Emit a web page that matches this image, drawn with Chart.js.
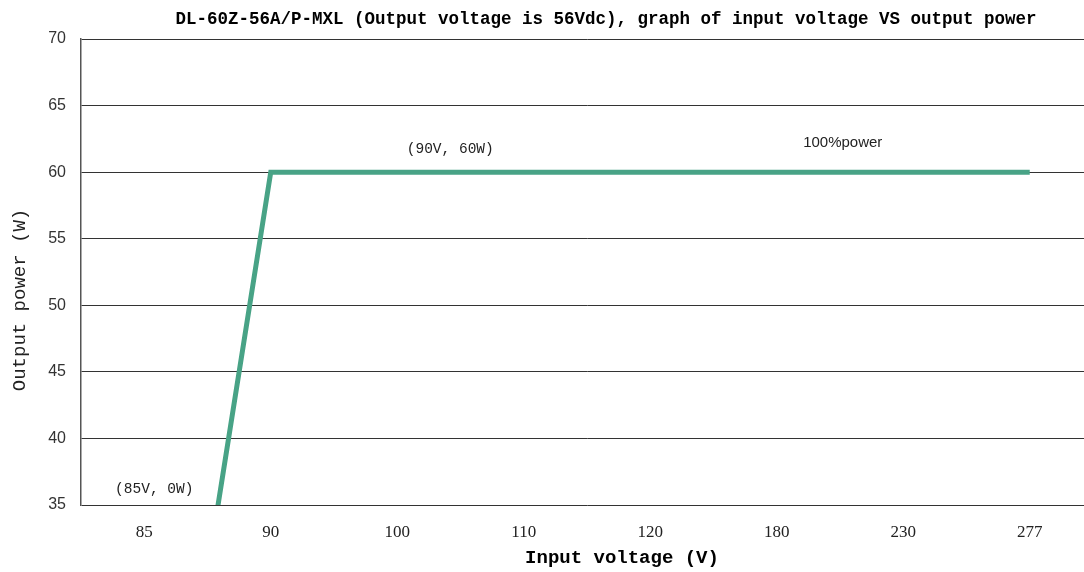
<!DOCTYPE html>
<html>
<head>
<meta charset="utf-8">
<script src="https://cdn.jsdelivr.net/npm/chart.js@4.4.1/dist/chart.umd.min.js"></script>
<style>
  html, body { margin: 0; padding: 0; background: #fff; overflow: hidden; }
  #wrap { width: 1093px; height: 572px; }
</style>
</head>
<body>
<div id="wrap"><canvas id="grafico"></canvas></div>
<script>
// datos
const voltajes = ['85', '90', '100', '110', '120', '180', '230', '277']
const potencia = [0, 60, 60, 60, 60, 60, 60, 60]
const ticksY = [35, 40, 45, 50, 55, 60, 65, 70]

const titulo = 'DL-60Z-56A/P-MXL (Output voltage is 56Vdc), graph of input voltage VS output power'
const tituloX = 'Input voltage (V)'
const tituloY = 'Output power (W)'

// notas sobre la linea: texto, categoria de referencia, valor en W
const notas = [
  { texto: '(85V, 0W)', cat: '85', valor: 36.2 },
  { texto: '(90V, 60W)', cat: '100', valor: 61.7 },
  { texto: '100%power', cat: '180', valor: 62.2 }
]

// dibuja el titulo, los titulos de ejes y las notas
const textosExtra = {
  id: 'textosExtra',
  afterDraw(chart) {
    const ctx = chart.ctx
    const x = chart.scales.x
    const y = chart.scales.y
    ctx.save()
    ctx.textBaseline = 'middle'
    ctx.textAlign = 'center'
    ctx.fillStyle = '#000'
    ctx.font = 'bold 17.5px "Liberation Mono"'
    ctx.fillText(titulo, 606, 20)

    ctx.font = 'bold 19px "Liberation Mono"'
    ctx.fillText(tituloX, 622, 558)

    ctx.save()
    ctx.translate(20, 300)
    ctx.rotate(-Math.PI / 2)
    ctx.font = '19px "Liberation Mono"'
    ctx.fillStyle = '#222'
    ctx.fillText(tituloY, 0, 0)
    ctx.restore()

    const desplaz = [10, 53, 66]
    notas.forEach((n, i) => {
      const px = x.getPixelForValue(voltajes.indexOf(n.cat)) + desplaz[i]
      const py = y.getPixelForValue(n.valor)
      ctx.font = i === 2 ? '15px "Liberation Sans"' : '14.5px "Liberation Mono"'
      ctx.fillStyle = '#222'
      ctx.fillText(n.texto, px, py)
    })
    ctx.restore()
  }
}

const config = {
  type: 'line',
  data: {
    labels: voltajes,
    datasets: [{
      label: 'Output power',
      data: potencia,
      borderColor: '#48a386',
      backgroundColor: '#48a386',
      borderWidth: 5,
      pointRadius: 0,
      tension: 0,
      fill: false
    }]
  },
  options: {
    responsive: true,
    maintainAspectRatio: false,
    animation: false,
    layout: { padding: { top: 39, right: 0, left: 0, bottom: 0 } },
    plugins: {
      legend: { display: false },
      title: { display: false },
      tooltip: { enabled: false }
    },
    scales: {
      x: {
        type: 'category',
        offset: true,
        grid: { display: false, drawTicks: false },
        border: { display: false },
        ticks: {
          padding: 17,
          color: '#222',
          font: { family: '"Liberation Serif"', size: 17 },
          maxRotation: 0
        },
        afterFit(scale) { scale.height = 67 }
      },
      y: {
        min: 35,
        max: 70,
        afterBuildTicks(scale) { scale.ticks = ticksY.map(v => ({ value: v })) },
        grid: { color: '#333', lineWidth: 1, drawTicks: false },
        border: { display: true, color: '#555', width: 1.5 },
        ticks: {
          padding: 15,
          color: '#333',
          font: { family: '"Liberation Sans"', size: 16 }
        },
        afterFit(scale) { scale.width = 81 }
      }
    }
  },
  plugins: [textosExtra]
}

new Chart(document.getElementById('grafico'), config)
</script>
</body>
</html>
